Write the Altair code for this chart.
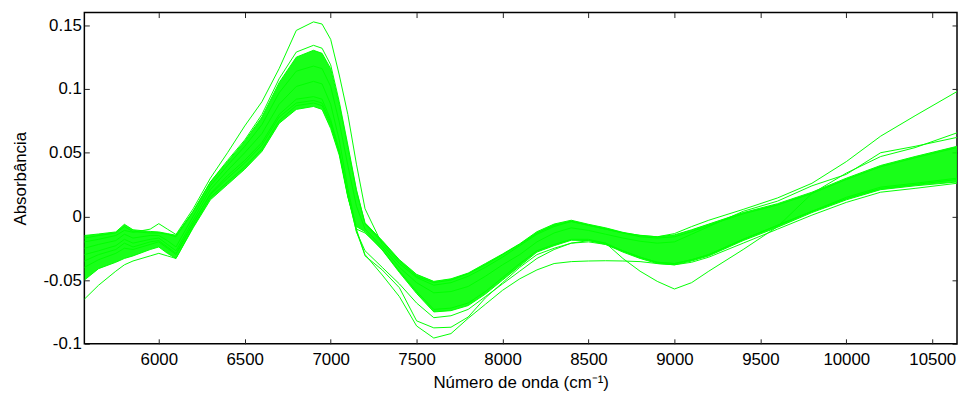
import altair as alt
import pandas as pd

# Wavenumber grid (cm-1)
WAVENUMBER = [5567, 5650, 5750, 5800, 5850, 5950, 6000, 6050, 6100, 6200,
              6300, 6400, 6500, 6600, 6700, 6800, 6900, 6950, 7000, 7050,
              7100, 7150, 7200, 7300, 7400, 7500, 7600, 7700, 7800, 7900,
              8000, 8100, 8200, 8300, 8400, 8500, 8600, 8700, 8800, 8900,
              9000, 9100, 9200, 9400, 9600, 9800, 10000, 10200, 10400, 10644]

# Envelope of the dense bundle of spectra
BAND_TOP = [-0.015, -0.0138, -0.0122, -0.0062, -0.0105, -0.0118, -0.0122, -0.0135, -0.0148, 0.004,
            0.027, 0.043, 0.059, 0.078, 0.105, 0.125, 0.1304, 0.128, 0.116, 0.088,
            0.054, 0.020, -0.005, -0.019, -0.034, -0.0455, -0.051, -0.049, -0.0445, -0.037,
            -0.0295, -0.0215, -0.012, -0.006, -0.003, -0.0062, -0.009, -0.0125, -0.015, -0.016,
            -0.0145, -0.0105, -0.006, 0.003, 0.010, 0.019, 0.030, 0.040, 0.047, 0.055]
BAND_BOTTOM = [-0.050, -0.041, -0.036, -0.033, -0.031, -0.026, -0.024, -0.029, -0.033, -0.009,
               0.013, 0.025, 0.037, 0.051, 0.073, 0.084, 0.0863, 0.084, 0.069, 0.048,
               0.015, -0.008, -0.012, -0.0264, -0.044, -0.0605, -0.075, -0.074, -0.070, -0.061,
               -0.050, -0.039, -0.028, -0.023, -0.0187, -0.019, -0.022, -0.028, -0.033, -0.037,
               -0.038, -0.035, -0.031, -0.019, -0.0085, 0.003, 0.013, 0.021, 0.024, 0.027]

# Individual spectra (outliers and edge spectra)
SPEC_HIGH = [-0.020, -0.018, -0.015, -0.011, -0.0125, -0.010, -0.0057, -0.010, -0.0142, 0.006,
             0.030, 0.050, 0.071, 0.090, 0.116, 0.146, 0.1527, 0.151, 0.139, 0.111,
             0.080, 0.041, 0.006, -0.022, -0.037, -0.048, -0.054, -0.052, -0.047, -0.040,
             -0.032, -0.023, -0.014, -0.008, -0.004, -0.007, -0.010, -0.013, -0.0148, -0.016,
             -0.0135, -0.008, -0.003, 0.0055, 0.0145, 0.026, 0.043, 0.063, 0.079, 0.098]
SPEC_PEAK2 = [-0.017, -0.015, -0.013, -0.008, -0.012, -0.013, -0.013, -0.014, -0.016, 0.004,
              0.027, 0.044, 0.060, 0.080, 0.108, 0.129, 0.1343, 0.132, 0.119, 0.090,
              0.056, 0.021, -0.006, -0.020, -0.035, -0.047, -0.052, -0.050, -0.045, -0.038,
              -0.030, -0.022, -0.013, -0.007, -0.004, -0.007, -0.010, -0.013, -0.016, -0.017,
              -0.016, -0.012, -0.007, 0.002, 0.009, 0.018, 0.029, 0.039, 0.046, 0.054]
SPEC_LOWSTART = [-0.065, -0.054, -0.043, -0.038, -0.035, -0.031, -0.029, -0.031, -0.033, -0.008,
                 0.015, 0.027, 0.039, 0.053, 0.075, 0.087, 0.089, 0.087, 0.072, 0.050,
                 0.016, -0.010, -0.013, -0.026, -0.043, -0.059, -0.073, -0.072, -0.068, -0.059,
                 -0.048, -0.037, -0.027, -0.022, -0.018, -0.018, -0.021, -0.027, -0.032, -0.036,
                 -0.037, -0.034, -0.030, -0.018, -0.007, 0.004, 0.014, 0.022, 0.025, 0.029]
SPEC_DEEP1 = [-0.040, -0.034, -0.029, -0.025, -0.026, -0.022, -0.020, -0.025, -0.030, -0.006,
              0.018, 0.032, 0.044, 0.058, 0.080, 0.092, 0.094, 0.092, 0.076, 0.052,
              0.018, -0.012, -0.030, -0.046, -0.063, -0.086, -0.0955, -0.092, -0.080, -0.069,
              -0.058, -0.049, -0.042, -0.037, -0.0355, -0.035, -0.0348, -0.035, -0.0355, -0.037,
              -0.038, -0.036, -0.032, -0.021, -0.010, 0.001, 0.011, 0.019, 0.022, 0.026]
SPEC_DEEP2 = [-0.030, -0.027, -0.023, -0.018, -0.021, -0.018, -0.017, -0.022, -0.027, -0.003,
              0.021, 0.036, 0.050, 0.065, 0.088, 0.102, 0.106, 0.104, 0.088, 0.060,
              0.022, -0.010, -0.031, -0.042, -0.056, -0.082, -0.0875, -0.087, -0.079, -0.064,
              -0.052, -0.040, -0.030, -0.025, -0.021, -0.019, -0.021, -0.033, -0.043, -0.051,
              -0.057, -0.052, -0.043, -0.026, -0.008, 0.018, 0.034, 0.047, 0.054, 0.0656]
SPEC_DEEP3 = [-0.035, -0.030, -0.026, -0.021, -0.024, -0.020, -0.019, -0.024, -0.029, -0.005,
              0.017, 0.030, 0.042, 0.056, 0.078, 0.089, 0.091, 0.089, 0.074, 0.051,
              0.016, -0.012, -0.027, -0.040, -0.053, -0.068, -0.0795, -0.078, -0.073, -0.063,
              -0.053, -0.043, -0.033, -0.026, -0.021, -0.020, -0.022, -0.027, -0.032, -0.036,
              -0.037, -0.034, -0.030, -0.018, -0.007, 0.004, 0.015, 0.023, 0.026, 0.030]
SPEC_WOBBLE = [-0.025, -0.022, -0.019, -0.014, -0.017, -0.015, -0.015, -0.019, -0.024, 0.000,
               0.024, 0.040, 0.055, 0.072, 0.097, 0.114, 0.118, 0.116, 0.102, 0.074,
               0.040, 0.008, -0.010, -0.024, -0.040, -0.052, -0.060, -0.059, -0.055, -0.047,
               -0.038, -0.030, -0.020, -0.013, -0.009, -0.011, -0.014, -0.017, -0.0195, -0.021,
               -0.020, -0.014, -0.008, 0.004, 0.012, 0.024, 0.033, 0.050, 0.055, 0.062]

X_TICKS = [6000, 6500, 7000, 7500, 8000, 8500, 9000, 9500, 10000, 10500]
Y_TICKS = [-0.1, -0.05, 0, 0.05, 0.1, 0.15]
X_DOMAIN = [5567, 10644]
Y_DOMAIN = [-0.1, 0.16]

GREEN = "#00ff00"
FONT = "Liberation Sans"

band_df = pd.DataFrame({"wn": WAVENUMBER, "lo": BAND_BOTTOM, "hi": BAND_TOP})

series = {
    "top": BAND_TOP, "bottom": BAND_BOTTOM, "high": SPEC_HIGH, "peak2": SPEC_PEAK2,
    "lowstart": SPEC_LOWSTART, "deep1": SPEC_DEEP1, "deep2": SPEC_DEEP2,
    "deep3": SPEC_DEEP3, "wobble": SPEC_WOBBLE,
}
rows = []
for name, vals in series.items():
    for w, v in zip(WAVENUMBER, vals):
        rows.append({"wn": w, "a": v, "s": name})
lines_df = pd.DataFrame(rows)

xs = alt.Scale(domain=X_DOMAIN, nice=False, zero=False)
ys = alt.Scale(domain=Y_DOMAIN, nice=False, zero=False)

common_axis = dict(grid=False, domain=False, tickSize=5, offset=-5, tickColor="#222222",
                   tickWidth=1, labelFont=FONT, labelFontSize=17, labelColor="black",
                   titleFont=FONT, titleFontSize=17, titleFontWeight="normal", titleColor="black")

x_axis = alt.Axis(orient="bottom", values=X_TICKS, format="d", labelPadding=8,
                  title="Número de onda (cm⁻¹)", titlePadding=7, **common_axis)
y_axis = alt.Axis(orient="left", values=Y_TICKS, labelExpr="datum.value + ''", labelPadding=3,
                  title="Absorbância", titlePadding=14, **common_axis)
x_axis_top = alt.Axis(orient="top", values=X_TICKS, labels=False, title=None, **common_axis)
y_axis_right = alt.Axis(orient="right", values=Y_TICKS, labels=False, title=None, **common_axis)

band = alt.Chart(band_df).mark_area(color=GREEN, opacity=0.9, clip=True).encode(
    x=alt.X("wn:Q", scale=xs, axis=x_axis),
    y=alt.Y("lo:Q", scale=ys, axis=y_axis),
    y2="hi:Q",
)

lines = alt.Chart(lines_df).mark_line(color=GREEN, strokeWidth=1, clip=True).encode(
    x=alt.X("wn:Q", scale=xs, axis=None),
    y=alt.Y("a:Q", scale=ys, axis=None),
    detail="s:N",
)

mirror = alt.Chart(lines_df).mark_line(opacity=0, clip=True).encode(
    x=alt.X("wn:Q", scale=xs, axis=x_axis_top),
    y=alt.Y("a:Q", scale=ys, axis=y_axis_right),
    detail="s:N",
)

chart = alt.layer(band, lines, mirror).resolve_axis(x="independent", y="independent").properties(
    width=880, height=334,
    padding={"left": 77, "top": 3, "right": 1, "bottom": 47},
    autosize=alt.AutoSizeParams(type="none"),
).configure_view(stroke="black", strokeWidth=1.5)

chart.save("out.html", embed_options={"renderer": "svg", "actions": False})
